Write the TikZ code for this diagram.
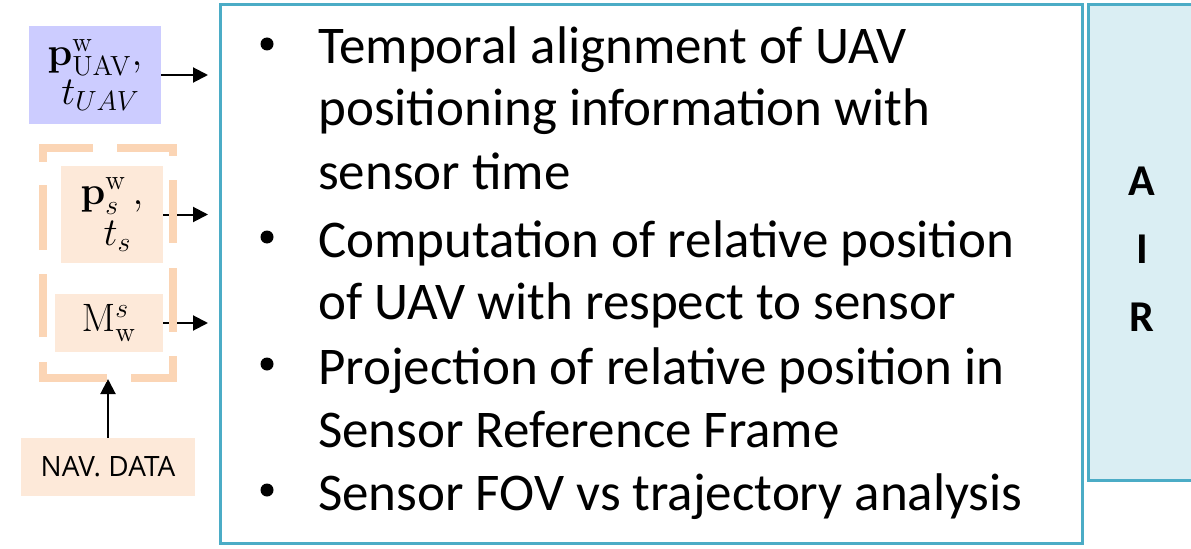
\RequirePackage{fix-cm}
\documentclass[tikz,border=0pt]{standalone}
\usepackage[no-math]{fontspec}
\usepackage{graphicx}
\setmainfont{Carlito}
\newfontfamily\navfont{Open Sans}
\usetikzlibrary{arrows.meta}

\definecolor{uavfill}{RGB}{204,204,255}
\definecolor{datafill}{RGB}{253,233,217}
\definecolor{frameline}{RGB}{251,213,181}
\definecolor{airfill}{RGB}{218,238,243}
\definecolor{tealline}{RGB}{75,172,198}

% enlarged math for the data labels
\newcommand\lbl[1]{\scalebox{1.35}{$#1$}}

\tikzset{
  databox/.style={inner sep=0pt, align=center,
    font=\fontsize{22pt}{23pt}\selectfont},
  feed/.style={line width=1.5pt, -{Triangle[length=11.25pt,width=11.25pt]}},
  bodyline/.style={anchor=base west, inner sep=0pt,
    font=\fontsize{39.75pt}{47pt}\selectfont},
  bulletdot/.style={fill=black},
  framedash/.style={draw=frameline, line width=6pt, line cap=butt, line join=miter},
}

\begin{document}
\begin{tikzpicture}[x=0.75pt,y=-0.75pt]
\useasboundingbox (0,0) rectangle (1191,549);

% input blocks
\node[databox, fill=uavfill, minimum width=99pt, minimum height=73.5pt] (uav) at (95,75)
  {\lbl{\mathbf{p}^{\mathrm{w}}_{\mathrm{UAV}},}\\[3pt] \lbl{\;t_{UAV}}};
\node[databox, fill=datafill, minimum width=76.5pt, minimum height=72.75pt] (ps) at (112,214.5)
  {\lbl{\mathbf{p}^{\mathrm{w}}_{s}\,,}\\[4pt] \lbl{\;t_{s}}};
\node[databox, fill=datafill, minimum width=81pt, minimum height=43.5pt] (mw) at (109,323)
  {\lbl{\mathrm{M}^{s}_{\mathrm{w}}}};
\node[inner sep=0pt, fill=datafill, minimum width=130.5pt, minimum height=43.5pt,
  font=\navfont\fontsize{21pt}{24pt}\selectfont] (nav) at (108,467) {NAV. DATA};

% processing block
\node[draw=tealline, line width=2.25pt, minimum width=646.5pt, minimum height=403.5pt,
  inner sep=0pt] (main) at (651,274) {};
\coordinate (tip) at (208,0);
\coordinate (navtip) at (0,379);

% feeds into the processing block
\draw[feed] (uav.east) -- (uav.east -| tip);
\draw[feed] (ps.east) -- (ps.east -| tip);
\draw[feed] (mw.east) -- (mw.east -| tip);
\draw[feed] (nav.north) -- (nav.north |- navtip);

% dashed grouping frame around the sensor data
\draw[framedash] (43,162) -- (43,148) -- (93,148);
\draw[framedash] (117,148) -- (173,148) -- (173,156);
\draw[framedash] (173,180) -- (173,243);
\draw[framedash] (173,268) -- (173,332);
\draw[framedash] (173,356) -- (173,378) -- (131,378);
\draw[framedash] (107,378) -- (43,378) -- (43,362);
\draw[framedash] (43,337) -- (43,274);
\draw[framedash] (43,250) -- (43,185);

% bullet list
\node[bodyline] (l1) at (318,64) {Temporal alignment of UAV};
\node[bodyline] (l2) at (318,126) {positioning information with};
\node[bodyline] (l3) at (318,190) {sensor time};
\node[bodyline] (l4) at (318,257) {Computation of relative position};
\node[bodyline] (l5) at (318,319) {of UAV with respect to sensor};
\node[bodyline] (l6) at (318,384) {Projection of relative position in};
\node[bodyline] (l7) at (318,447) {Sensor Reference Frame};
\node[bodyline] (l8) at (318,510) {Sensor FOV vs trajectory analysis};
\foreach \b in {64,257,384,510}
  \fill[bulletdot] (267,\b-20) circle[radius=4.875pt];

% side block
\draw[fill=airfill, draw=tealline, line width=2.25pt] (1088,5) rectangle (1200,480);
\node[inner sep=0pt, align=center, font=\bfseries\fontsize{33pt}{51pt}\selectfont]
  (air) at (1142,249) {A\\I\\R};
\end{tikzpicture}
\end{document}
